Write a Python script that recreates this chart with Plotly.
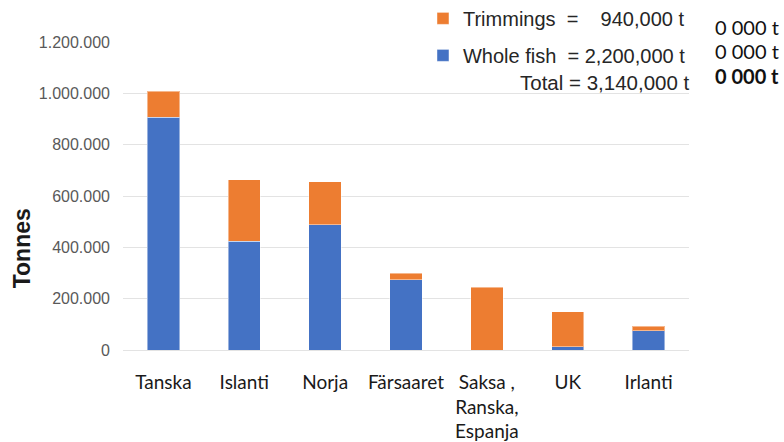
import plotly.graph_objects as go

categories = ["Tanska", "Islanti", "Norja", "Färsaaret", "Saksa ,<br>Ranska,<br>Espanja", "UK", "Irlanti"]
whole_fish = [906000, 423000, 488000, 274000, 0, 13000, 75000]
trimmings = [102000, 240000, 168000, 26000, 245000, 137000, 17000]
y_ticks = [0, 200000, 400000, 600000, 800000, 1000000, 1200000]

name_trim = "Trimmings\u00a0\u00a0=\u00a0\u00a0\u00a0\u00a0940,000 t"
name_whole = "Whole fish\u00a0\u00a0= 2,200,000 t"
total_text = "Total = 3,140,000 t"
side_texts = ["0 000 t", "0 000 t", "<b>0 000 t</b>"]

BLUE = "#4472C4"
ORANGE = "#ED7D31"

fig = go.Figure()
fig.add_trace(go.Bar(x=categories, y=whole_fish, name=name_whole, legendgroup="w", legendrank=2,
                     marker=dict(color=BLUE, line=dict(color="rgba(255,255,255,0.45)", width=1))))
fig.add_trace(go.Bar(x=categories, y=trimmings, name=name_trim, legendgroup="t", legendrank=1,
                     marker=dict(color=ORANGE, line=dict(color="rgba(255,255,255,0.45)", width=1))))

fig.update_layout(
    barmode="stack",
    bargap=0.6,
    width=784, height=442,
    margin=dict(l=123, r=95, t=42, b=92, autoexpand=False),
    paper_bgcolor="white", plot_bgcolor="white",
    separators=",.",
    font=dict(family="Liberation Sans, Arial", color="#262626"),
    showlegend=True,
    legend=dict(x=0.53, y=1.14, xanchor="left", yanchor="top",
                traceorder="grouped", tracegroupgap=8,
                font=dict(size=20, family="Liberation Sans, Arial", color="#262626"),
                bgcolor="rgba(0,0,0,0)", itemclick=False),
)
fig.update_yaxes(range=[0, 1200000], tickvals=y_ticks, tickformat=",d",
                 showgrid=True, gridcolor="#e3e3e3", gridwidth=1,
                 zeroline=True, zerolinecolor="#e3e3e3", zerolinewidth=1,
                 showline=False, ticks="", ticklabelstandoff=12, automargin=False,
                 tickfont=dict(size=16, color="#595959", family="Liberation Sans, Arial"))
fig.update_xaxes(showline=False, ticks="", ticklabelstandoff=19, automargin=False,
                 tickfont=dict(size=19, color="#1a1a1a", family="Lato"))

fig.add_annotation(text="<b>Tonnes</b>", textangle=-90, xref="paper", yref="paper",
                   x=-0.178, y=0.331, xanchor="center", yanchor="middle", showarrow=False,
                   font=dict(size=23, color="#1a1a1a", family="Liberation Sans, Arial"))
fig.add_annotation(text=total_text, xref="paper", yref="paper", x=1.005, y=0.870,
                   xanchor="right", yanchor="middle", showarrow=False,
                   font=dict(size=20.5, color="#262626", family="Liberation Sans, Arial"))
for t, yy in zip(side_texts, [1.049, 0.971, 0.889]):
    fig.add_annotation(text=t, xref="paper", yref="paper", x=1.0424, y=yy,
                       xanchor="left", yanchor="middle", showarrow=False,
                       font=dict(size=20, color="#111111", family="Lato"))

fig.write_html("out.html", config={"displayModeBar": False},
               post_script="document.body.style.margin='0';")
